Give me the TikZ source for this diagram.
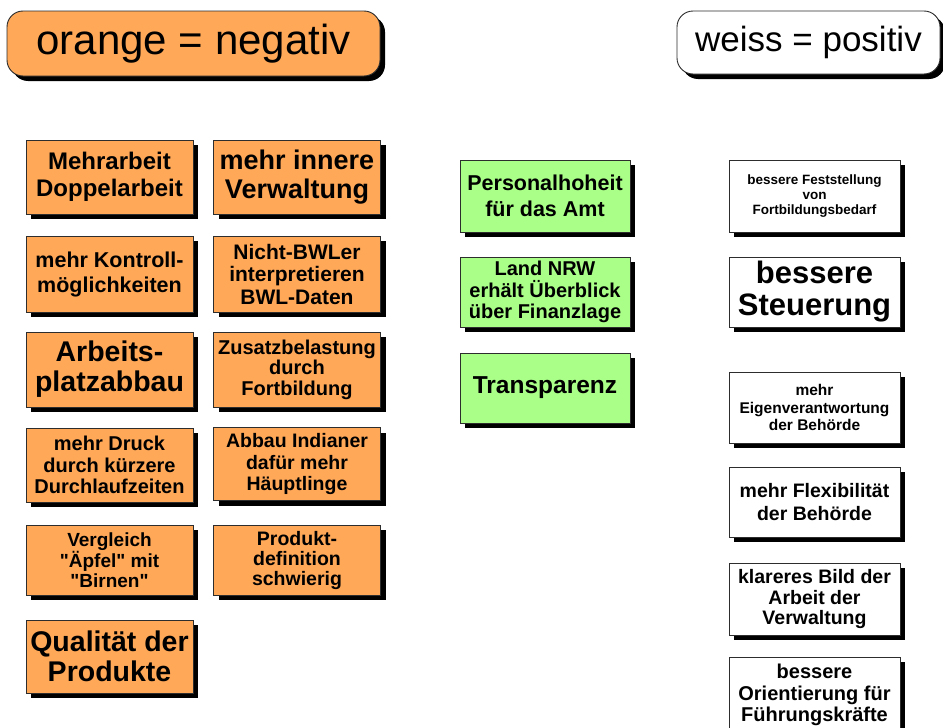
\documentclass[tikz,border=0pt]{standalone}
\usepackage{fontspec}
\setmainfont{Liberation Sans}
\newfontfamily\qfont{Liberation Sans}
\usetikzlibrary{shadows}
\definecolor{negorange}{RGB}{255,168,88}
\definecolor{posgreen}{RGB}{170,255,136}
\definecolor{edgegray}{RGB}{45,45,45}
\newcommand{\fsz}[2]{\fontsize{#1}{#2}\selectfont}
\newcommand{\sq}{{\qfont\bfseries "}}
\begin{document}
\begin{tikzpicture}[x=1pt,y=-1pt,
  blackshadow/.style={drop shadow={shadow xshift=5pt,shadow yshift=-5pt,fill=black,opacity=1}},
  card/.style={draw=edgegray, line width=0.9pt, inner sep=0pt, align=center, text=black, blackshadow},
  negbox/.style={card, fill=negorange, minimum width=167pt},
  posbox/.style={card, fill=posgreen, minimum width=170pt},
  wbox/.style={card, fill=white, minimum width=171pt},
  headbox/.style={draw=edgegray, line width=0.9pt, rounded corners=16pt, inner sep=0pt, text=black, blackshadow},
]
\useasboundingbox (0,0) rectangle (943,728);
\fill[white] (0,0) rectangle (943,728);

% headers
\node[headbox, fill=negorange, minimum width=373pt, minimum height=65pt, font=\fsz{42}{46}] (hneg) at (193.5,43.5) {orange = negativ};
\node[headbox, fill=white, minimum width=263pt, minimum height=63pt, font=\fsz{35}{40}] (hpos) at (808.5,42.5) {weiss = positiv};

% orange column 1
\node[negbox, minimum height=74pt, font=\bfseries\fsz{24}{27}] (o1) at (109.5,177) {Mehrarbeit\\Doppelarbeit};
\node[negbox, minimum height=76pt, font=\bfseries\fsz{21.5}{25}] (o3) at (109.5,274) {mehr Kontroll-\\möglichkeiten};
\node[negbox, minimum height=75pt, font=\bfseries\fsz{28.5}{30}] (o5) at (109.5,369.5) {Arbeits-\\platzabbau};
\node[negbox, minimum height=74pt, font=\bfseries\fsz{20}{21.5}] (o7) at (109.5,465) {mehr Druck\\durch kürzere\\Durchlaufzeiten};
\node[negbox, minimum height=70pt, font=\bfseries\fsz{19}{20}] (o9) at (109.5,560) {Vergleich\\\sq Äpfel\sq{} mit\\\sq Birnen\sq};
\node[negbox, minimum height=73pt, font=\bfseries\fsz{28.5}{30}] (o11) at (109.5,656.5) {Qualität der\\Produkte};

% orange column 2
\node[negbox, minimum height=74pt, font=\bfseries\fsz{27}{29}] (o2) at (297,177) {mehr innere\\Verwaltung};
\node[negbox, minimum height=76pt, font=\bfseries\fsz{21}{22.5}] (o4) at (297,274) {Nicht-BWLer\\interpretieren\\BWL-Daten};
\node[negbox, minimum height=75pt, font=\bfseries\fsz{20}{20.5}] (o6) at (297,369.5) {Zusatzbelastung\\durch\\Fortbildung};
\node[negbox, minimum height=73pt, font=\bfseries\fsz{19.5}{21.5}] (o8) at (297,464) {Abbau Indianer\\dafür mehr\\Häuptlinge};
\node[negbox, minimum height=70pt, font=\bfseries\fsz{19.5}{20}] (o10) at (297,560) {Produkt-\\definition\\schwierig};

% green column
\node[posbox, minimum height=72pt, font=\bfseries\fsz{21.5}{26}] (g1) at (545,196) {Personalhoheit\\für das Amt};
\node[posbox, minimum height=70pt, font=\bfseries\fsz{20}{21.5}] (g2) at (545,292) {Land NRW\\erhält Überblick\\über Finanzlage};
\node[posbox, minimum height=70pt, font=\bfseries\fsz{24.5}{27}] (g3) at (545,388) {Transparenz};

% white column
\node[wbox, minimum height=72pt, font=\bfseries\fsz{13.5}{15}] (w1) at (814.5,196) {bessere Feststellung\\von\\Fortbildungsbedarf};
\node[wbox, minimum height=70pt, font=\bfseries\fsz{31}{32}] (w2) at (814.5,292) {bessere\\Steuerung};
\node[wbox, minimum height=71pt, font=\bfseries\fsz{15.5}{17.5}] (w3) at (814.5,407.5) {mehr\\Eigenverantwortung\\der Behörde};
\node[wbox, minimum height=70pt, font=\bfseries\fsz{19.5}{23}] (w4) at (814.5,502) {mehr Flexibilität\\der Behörde};
\node[wbox, minimum height=72pt, font=\bfseries\fsz{19.5}{20.5}] (w5) at (814.5,599) {klareres Bild der\\Arbeit der\\Verwaltung};
\node[wbox, minimum height=76pt, font=\bfseries\fsz{20}{21.5}] (w6) at (814.5,695) {bessere\\Orientierung für\\Führungskräfte};
\end{tikzpicture}
\end{document}
